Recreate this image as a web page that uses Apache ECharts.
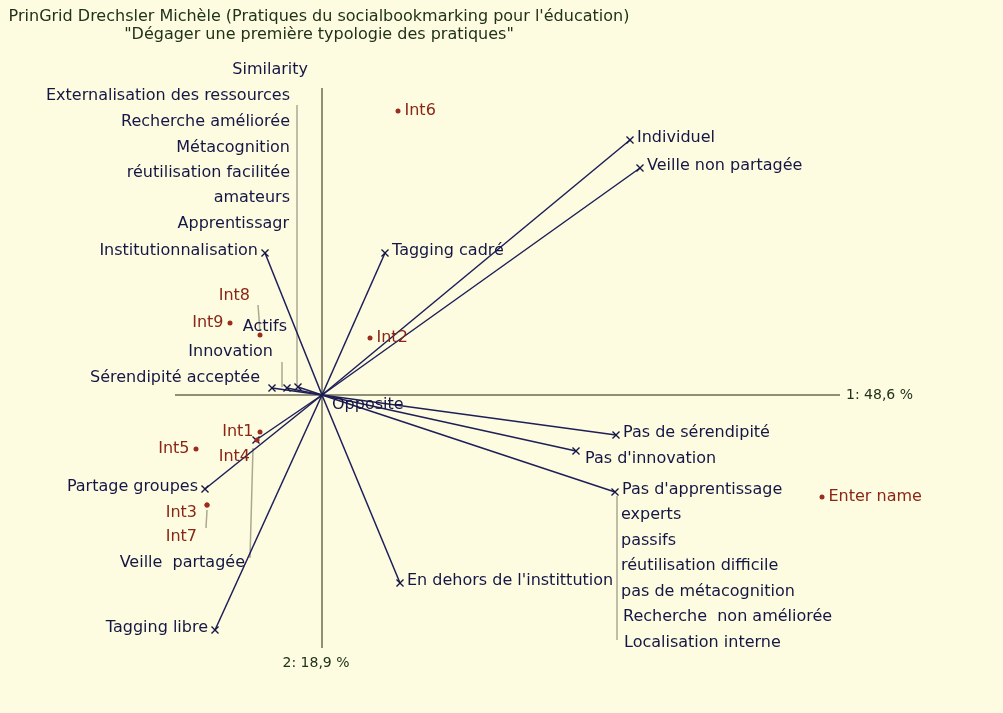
<!DOCTYPE html>
<html>
<head>
<meta charset="utf-8">
<script src="https://cdn.jsdelivr.net/npm/echarts@6/dist/echarts.min.js"></script>
<style>
  html, body { margin: 0; padding: 0; background: #fdfce1; }
  #chart { width: 1003px; height: 713px; }
</style>
</head>
<body>
<div id="chart"></div>
<script>
// PrinGrid biplot: component 1 on x, component 2 on y
const titleLines = [
  "PrinGrid Drechsler Michèle (Pratiques du socialbookmarking pour l'éducation)",
  '"Dégager une première typologie des pratiques"'
];
const axisNames = ['1: 48,6 %', '2: 18,9 %'];
const axisEndX = [5.18, 0];
const axisEndY = [0, -2.53];
const axisStartX = [-1.47, 0];
const axisStartY = [0, 3.07];

// constructs (vectors from the origin)
const vecNames = ['Individuel', 'Veille non partagée', 'Tagging cadré', 'Institutionnalisation',
  'Pas de sérendipité', "Pas d'innovation", "Pas d'apprentissage", "En dehors de l'instittution",
  'Tagging libre', 'Partage groupes', 'Sérendipité acceptée', 'Innovation', 'Actifs', 'Veille partagée'];
const vecX = [3.08, 3.18, 0.63, -0.57, 2.94, 2.54, 2.93, 0.78, -1.07, -1.17, -0.50, -0.35, -0.24, -0.66];
const vecY = [2.55, 2.27, 1.42, 1.42, -0.40, -0.56, -0.97, -1.88, -2.35, -0.94, 0.07, 0.07, 0.08, -0.45];

// elements
const elemNames = ['Int1', 'Int2', 'Int3', 'Int4', 'Int5', 'Int6', 'Int7', 'Int8', 'Int9', 'Enter name'];
const elemX = [-0.62, 0.48, -1.15, -0.65, -1.26, 0.76, -1.15, -0.62, -0.92, 5.00];
const elemY = [-0.37, 0.57, -1.10, -0.45, -0.54, 2.84, -1.10, 0.60, 0.72, -1.02];

// labels moved away from their points
const leftTextNames = ['Similarity', 'Externalisation des ressources', 'Recherche améliorée', 'Métacognition',
  'réutilisation facilitée', 'amateurs', 'Apprentissagr', 'Actifs', 'Innovation', 'Sérendipité acceptée', 'Veille  partagée'];
const leftTextX = [-0.14, -0.32, -0.32, -0.32, -0.32, -0.32, -0.33, -0.35, -0.49, -0.62, -0.77];
const leftTextY = [3.25, 2.99, 2.73, 2.47, 2.22, 1.97, 1.71, 0.68, 0.43, 0.17, -1.68];

const rightTextNames = ['experts', 'passifs', 'réutilisation difficile', 'pas de métacognition',
  'Recherche  non améliorée', 'Localisation interne', 'Opposite'];
const rightTextX = [2.99, 2.99, 2.99, 2.99, 3.01, 3.02, 0.10];
const rightTextY = [-1.20, -1.46, -1.71, -1.97, -2.22, -2.48, -0.10];

const elemTextNames = ['Int8', 'Int4', 'Int3', 'Int7'];
const elemTextX = [-0.72, -0.72, -1.25, -1.25];
const elemTextY = [0.99, -0.62, -1.18, -1.42];

// grey leader lines from moved labels to their points
const leadX1 = [-0.25, -0.40, -0.64, -0.69, -1.15, 2.95];
const leadY1 = [2.90, 0.33, 0.90, -0.53, -1.15, -1.01];
const leadX2 = [-0.25, -0.40, -0.62, -0.72, -1.16, 2.95];
const leadY2 = [0.09, 0.08, 0.64, -1.63, -1.33, -2.45];

const NAVY = '#161645';
const RED = '#8a2616';
const GREEN = '#22321a';
const FONT = 'DejaVu Sans';
const FS = 16;
const CROSS = 'path://M0,1.2L1.2,0L5,3.8L8.8,0L10,1.2L6.2,5L10,8.8L8.8,10L5,6.2L1.2,10L0,8.8L3.8,5Z';

const leftSide = ['Institutionnalisation', 'Tagging libre', 'Partage groupes', 'Int1', 'Int5', 'Int9'];
const movedLabels = ['Sérendipité acceptée', 'Innovation', 'Actifs', 'Veille partagée', 'Int8', 'Int4', 'Int3', 'Int7'];

const chart = echarts.init(document.getElementById('chart'));

const vecData = vecNames.map((n, i) => ({
  name: n,
  value: [vecX[i], vecY[i]],
  label: {
    show: !movedLabels.includes(n),
    position: leftSide.includes(n) ? 'left' : 'right',
    offset: n === "Pas d'innovation" ? [2, 8] : [0, -2]
  }
}));

const elemData = elemNames.map((n, i) => ({
  name: n,
  value: [elemX[i], elemY[i]],
  label: { show: !movedLabels.includes(n), position: leftSide.includes(n) ? 'left' : 'right' }
}));

const textSeries = (names, xs, ys, pos, color) => ({
  type: 'scatter',
  symbolSize: 0,
  silent: true,
  itemStyle: { opacity: 1 },
  data: names.map((n, i) => ({ name: n, value: [xs[i], ys[i]] })),
  label: { show: true, position: pos, distance: 0, formatter: '{b}', color: color, opacity: 1, fontFamily: FONT, fontSize: FS }
});

chart.setOption({
  backgroundColor: '#fdfce1',
  animation: false,
  title: {
    text: titleLines.join('\n'),
    left: 314,
    top: 3,
    textAlign: 'center',
    textStyle: { fontFamily: FONT, fontSize: FS, fontWeight: 'normal', color: GREEN, lineHeight: 18 }
  },
  grid: { left: 0, right: 0, top: 0, bottom: 0 },
  xAxis: { type: 'value', min: -3.22, max: 6.81, show: false },
  yAxis: { type: 'value', min: -3.18, max: 3.95, show: false },
  series: [
    {
      type: 'lines',
      coordinateSystem: 'cartesian2d',
      silent: true,
      lineStyle: { color: '#6c6a52', width: 1.5, opacity: 1 },
      data: axisStartX.map((x, i) => ({ coords: [[x, axisStartY[i]], [axisEndX[i], axisEndY[i]]] }))
    },
    {
      type: 'lines',
      coordinateSystem: 'cartesian2d',
      silent: true,
      lineStyle: { color: '#aaa890', width: 1.5, opacity: 1 },
      data: leadX1.map((x, i) => ({ coords: [[x, leadY1[i]], [leadX2[i], leadY2[i]]] }))
    },
    {
      type: 'lines',
      coordinateSystem: 'cartesian2d',
      silent: true,
      lineStyle: { color: '#1e1e58', width: 1.5, opacity: 1 },
      data: vecX.map((x, i) => ({ coords: [[0, 0], [x, vecY[i]]] }))
    },
    {
      type: 'scatter',
      symbol: CROSS,
      symbolSize: 8,
      itemStyle: { color: NAVY, opacity: 1 },
      data: vecData,
      label: { formatter: '{b}', color: NAVY, opacity: 1, fontFamily: FONT, fontSize: FS, distance: 3 }
    },
    {
      type: 'scatter',
      symbol: 'circle',
      symbolSize: 5,
      itemStyle: { color: '#9b2d1f', opacity: 1 },
      data: elemData,
      label: { formatter: '{b}', color: RED, opacity: 1, fontFamily: FONT, fontSize: FS, distance: 4 }
    },
    textSeries(leftTextNames, leftTextX, leftTextY, 'left', NAVY),
    textSeries(rightTextNames, rightTextX, rightTextY, 'right', NAVY),
    textSeries(elemTextNames, elemTextX, elemTextY, 'left', RED),
    {
      type: 'scatter',
      symbolSize: 0,
      silent: true,
      itemStyle: { opacity: 1 },
      data: axisNames.map((n, i) => ({
        name: n,
        value: [axisEndX[i], axisEndY[i]],
        label: { position: i === 0 ? 'right' : 'bottom', distance: i === 0 ? 6 : 8, offset: i === 0 ? [0, 0] : [-6, 0] }
      })),
      label: { show: true, formatter: '{b}', color: GREEN, opacity: 1, fontFamily: FONT, fontSize: 14 }
    }
  ]
});
</script>
</body>
</html>
